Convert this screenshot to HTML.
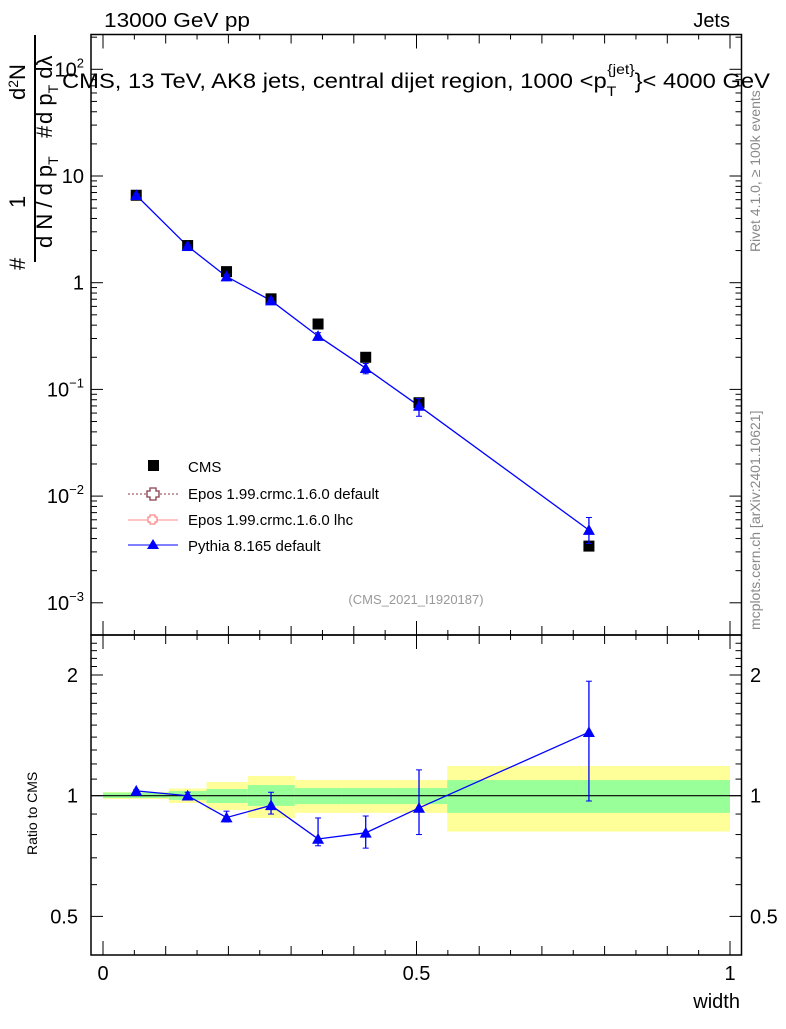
<!DOCTYPE html>
<html><head><meta charset="utf-8"><style>
body{margin:0;background:#fff;}
svg text{font-family:"Liberation Sans",sans-serif;}
</style></head><body>
<svg id="c" width="786" height="1024" xmlns="http://www.w3.org/2000/svg">
<g id="bands"></g>
<g id="axes"></g>
<g id="marks"></g>
<text x="104" y="27" font-size="20" textLength="146" lengthAdjust="spacingAndGlyphs">13000 GeV pp</text>
<text x="730" y="27" font-size="20" text-anchor="end">Jets</text>
<text x="62" y="88" font-size="21" textLength="708" lengthAdjust="spacingAndGlyphs">CMS, 13 TeV, AK8 jets, central dijet region, 1000 &lt;p<tspan font-size="14" dy="8">T</tspan><tspan font-size="14" dy="-22" dx="-8">{jet}</tspan><tspan dy="14">}&lt; 4000 GeV</tspan></text>
<text x="416" y="604" font-size="13" fill="#999" text-anchor="middle">(CMS_2021_I1920187)</text>
<text transform="translate(760,252) rotate(-90)" font-size="14" fill="#888">Rivet 4.1.0, ≥ 100k events</text>
<text transform="translate(760,630) rotate(-90)" font-size="14" fill="#888">mcplots.cern.ch [arXiv:2401.10621]</text>
<g font-size="22">
<text transform="translate(25,270) rotate(-90)">#</text>
<line x1="35" y1="262" x2="35" y2="35" stroke="#000" stroke-width="2"/>
<text transform="translate(25,208) rotate(-90)">1</text>
<text transform="translate(52,248) rotate(-90)">d N / d p<tspan font-size="14" dy="6">T</tspan></text>
<text transform="translate(52,138) rotate(-90)">#</text>
<text transform="translate(25,100) rotate(-90)">d<tspan font-size="14" dy="-7">2</tspan><tspan dy="7">N</tspan></text>
<text transform="translate(52,124) rotate(-90)">d p<tspan font-size="14" dy="6">T</tspan><tspan dy="-6"> d</tspan>λ</text>
</g>
<text transform="translate(37,855) rotate(-90)" font-size="14">Ratio to CMS</text>
<text x="740" y="1008" font-size="20" text-anchor="end">width</text>
<g font-size="15">
<rect x="148" y="460" width="11" height="11"/>
<text x="188" y="472">CMS</text>
<line x1="128" y1="494" x2="178" y2="494" stroke="#8b3a4a" stroke-dasharray="2,2"/>
<path d="M150 489h6v3h3v6h-3v3h-6v-3h-3v-6h3z" fill="#fff" stroke="#8b3a4a" stroke-width="1.3" transform="translate(0,-1)"/>
<text x="188" y="499">Epos 1.99.crmc.1.6.0 default</text>
<line x1="128" y1="520" x2="178" y2="520" stroke="#f88"/>
<path d="M150 516h5v2h2v5h-2v2h-5v-2h-2v-5h2z" fill="#fff" stroke="#f88" stroke-width="1.3" transform="translate(0,-1)"/>
<text x="188" y="525">Epos 1.99.crmc.1.6.0 lhc</text>
<line x1="128" y1="545" x2="178" y2="545" stroke="#00f"/>
<path d="M153 539l6 10h-12z" fill="#00f"/>
<text x="188" y="551">Pythia 8.165 default</text>
</g>
</svg>
<script>
const xCenters=[0.053,0.135,0.197,0.268,0.343,0.419,0.504,0.775];
const binEdges=[0.0,0.105,0.165,0.231,0.306,0.381,0.461,0.549,1.0];
const cmsVals=[6.6,2.23,1.27,0.706,0.41,0.2,0.075,0.0034];
const pyVals=[6.6,2.2,1.14,0.68,0.316,0.158,0.07,0.0048];
const pyErrLo=[6.4,2.12,1.08,0.64,0.29,0.14,0.056,0.0036];
const pyErrHi=[6.8,2.28,1.2,0.72,0.34,0.175,0.082,0.0063];
const ratioVals=[1.028,1.0,0.882,0.946,0.78,0.808,0.932,1.44];
const ratioLo=[1.02,0.98,0.86,0.90,0.75,0.74,0.80,0.97];
const ratioHi=[1.035,1.02,0.915,1.02,0.88,0.89,1.16,1.93];
const yellowLo=[0.981,0.959,0.921,0.88,0.906,0.906,0.906,0.814];
const yellowHi=[1.021,1.042,1.082,1.12,1.094,1.094,1.094,1.186];
const greenLo=[0.987,0.976,0.959,0.943,0.953,0.953,0.953,0.906];
const greenHi=[1.018,1.027,1.039,1.063,1.045,1.045,1.045,1.094];
const mainTicks=[2,1,0,-1,-2,-3];
const ratioTicks=[0.5,1,2];
const xTicks=[0,0.5,1];

const NS='http://www.w3.org/2000/svg';
const X=v=>103+627*v;
const R=741.5,T1=34.5,B1=635,B2=955;
const Y=v=>282.7-106.7*Math.log10(v);
const YR=r=>795.7-120.7*Math.log2(r);
function mk(p,t,a){const e=document.createElementNS(NS,t);for(const k in a)e.setAttribute(k,a[k]);p.appendChild(e);return e;}
const ax=document.getElementById('axes'),mg=document.getElementById('marks'),bd=document.getElementById('bands');
for(let i=0;i<binEdges.length-1;i++){
 const x1=X(binEdges[i]),x2=X(binEdges[i+1]);
 let r=mk(bd,'rect',{x:x1,y:YR(yellowHi[i]),width:x2-x1,height:YR(yellowLo[i])-YR(yellowHi[i]),fill:'#ffff99'});
 
 
 r=mk(bd,'rect',{x:x1,y:YR(greenHi[i]),width:x2-x1,height:YR(greenLo[i])-YR(greenHi[i]),fill:'#99ff99'});
 
 
}
mk(ax,'rect',{x:91,y:T1,width:R-91,height:B1-T1,fill:'none',stroke:'#000','stroke-width':1.5});
mk(ax,'rect',{x:91,y:B1,width:R-91,height:B2-B1,fill:'none',stroke:'#000','stroke-width':1.5});
mk(ax,'line',{x1:91,x2:R,y1:YR(1),y2:YR(1),stroke:'#000','stroke-width':1.2});
for(let d=-3;d<=2;d++){for(let m=1;m<10;m++){const v=m*Math.pow(10,d);const y=Y(v);if(y<T1||y>B1)continue;const len=m==1?12:6;
 mk(ax,'line',{x1:91,x2:91+len,y1:y,y2:y,stroke:'#000'});mk(ax,'line',{x1:R-len,x2:R,y1:y,y2:y,stroke:'#000'});}}
for(const d of mainTicks){const y=Y(Math.pow(10,d));let t;
 if(d==0)t=mk(ax,'text',{x:84,y:y+7,'font-size':20,'text-anchor':'end'}),t.textContent='1';
 else if(d==1)t=mk(ax,'text',{x:84,y:y+7,'font-size':20,'text-anchor':'end'}),t.textContent='10';
 else{t=mk(ax,'text',{x:84,y:y+7,'font-size':20,'text-anchor':'end'});t.innerHTML='10<tspan font-size="13" dy="-9">'+(d<0?'−'+(-d):d)+'</tspan>';}
 
 }
for(let r=0.4;r<=2.5;r+=0.1){const y=YR(r);if(y<B1||y>B2)continue;const maj=[0.5,1,2].some(v=>Math.abs(v-r)<1e-6);const len=maj?12:6;
 mk(ax,'line',{x1:91,x2:91+len,y1:y,y2:y,stroke:'#000'});mk(ax,'line',{x1:R-len,x2:R,y1:y,y2:y,stroke:'#000'});}
for(const r of ratioTicks){for(const [xx,anc] of [[78,'end'],[750,'start']]){const t=mk(ax,'text',{x:xx,y:YR(r)+7,'font-size':20,'text-anchor':anc});t.textContent=String(r);
 
 }}
for(let i=0;i<=20;i++){const v=i*0.05,x=X(v);const len=i%10==0?14:(i%2==0?9:5);
 for(const [yb,dir] of [[B1,-1],[T1,1],[B2,-1],[B1,1]])mk(ax,'line',{x1:x,x2:x,y1:yb,y2:yb+dir*len,stroke:'#000'});}
for(const v of xTicks){const t=mk(ax,'text',{x:X(v),y:980,'font-size':20,'text-anchor':'middle'});t.textContent=String(v);
 
 }
function tri(x,y,s){return `M${x} ${y-s}L${x+s} ${y+s*0.8}L${x-s} ${y+s*0.8}Z`;}
let pts=xCenters.map((v,i)=>X(v)+','+Y(pyVals[i])).join(' ');
let pl=mk(mg,'polyline',{points:pts,fill:'none',stroke:'#00f','stroke-width':1.3});


xCenters.forEach((v,i)=>{const x=X(v);
 const s=mk(mg,'rect',{x:x-5.5,y:Y(cmsVals[i])-5.5,width:11,height:11,fill:'#000'});
 
 
 mk(mg,'line',{x1:x,x2:x,y1:Y(pyErrHi[i]),y2:Y(pyErrLo[i]),stroke:'#00f','stroke-width':1.3});
 mk(mg,'line',{x1:x-3,x2:x+3,y1:Y(pyErrHi[i]),y2:Y(pyErrHi[i]),stroke:'#00f'});
 mk(mg,'line',{x1:x-3,x2:x+3,y1:Y(pyErrLo[i]),y2:Y(pyErrLo[i]),stroke:'#00f'});
 const p=mk(mg,'path',{d:tri(x,Y(pyVals[i]),6),fill:'#00f'});
 
 
});
pts=xCenters.map((v,i)=>X(v)+','+YR(ratioVals[i])).join(' ');
pl=mk(mg,'polyline',{points:pts,fill:'none',stroke:'#00f','stroke-width':1.3});


xCenters.forEach((v,i)=>{const x=X(v);
 mk(mg,'line',{x1:x,x2:x,y1:YR(ratioHi[i]),y2:YR(ratioLo[i]),stroke:'#00f','stroke-width':1.3});
 mk(mg,'line',{x1:x-3,x2:x+3,y1:YR(ratioHi[i]),y2:YR(ratioHi[i]),stroke:'#00f'});
 mk(mg,'line',{x1:x-3,x2:x+3,y1:YR(ratioLo[i]),y2:YR(ratioLo[i]),stroke:'#00f'});
 const p=mk(mg,'path',{d:tri(x,YR(ratioVals[i]),6),fill:'#00f'});
 
 
});
</script>
</body></html>
